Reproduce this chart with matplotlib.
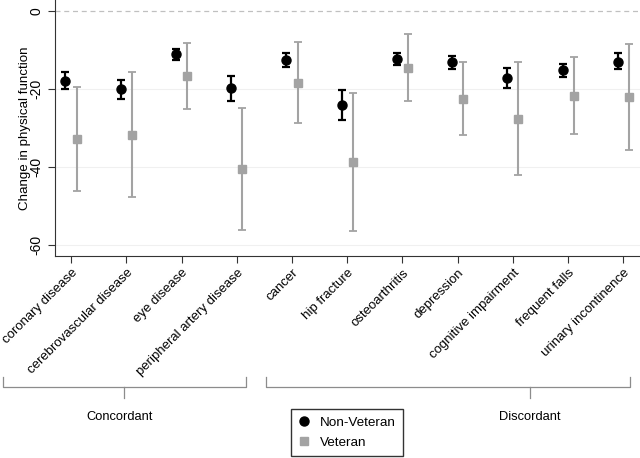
import matplotlib
matplotlib.use("Agg")
import matplotlib.pyplot as plt
from matplotlib.lines import Line2D
import numpy as np

plt.rcParams['font.family'] = ['Liberation Sans', 'DejaVu Sans']

categories = ["coronary disease", "cerebrovascular disease", "eye disease",
              "peripheral artery disease", "cancer", "hip fracture", "osteoarthritis",
              "depression", "cognitive impairment", "frequent falls", "urinary incontinence"]

nonvet_est = [-17.9, -20.0, -11.1, -19.8, -12.6, -24.2, -12.3, -13.2, -17.2, -15.1, -13.0]
nonvet_hi  = [-15.7, -17.6, -9.7, -16.7, -10.9, -20.3, -10.9, -11.5, -14.5, -13.5, -10.9]
nonvet_lo  = [-19.9, -22.5, -12.6, -23.0, -14.4, -27.9, -13.8, -14.9, -19.8, -16.8, -15.0]

vet_est = [-32.7, -31.7, -16.7, -40.5, -18.4, -38.6, -14.6, -22.6, -27.7, -21.7, -22.1]
vet_hi  = [-19.6, -15.6, -8.1, -24.9, -8.0, -20.9, -5.9, -13.1, -13.1, -11.9, -8.5]
vet_lo  = [-46.0, -47.7, -25.1, -56.1, -28.8, -56.3, -23.2, -31.8, -42.1, -31.5, -35.6]

yticks = [0, -20, -40, -60]
group_labels = ["Concordant", "Discordant"]

fig = plt.figure(figsize=(6.4, 4.58), dpi=100)
ax = fig.add_axes([55/640, 1 - 255.7/458, 1 - 55/640, 255.7/458])

x = np.arange(len(categories))
off = 0.1
nv_color = "#000000"
v_color = "#a3a3a3"

ne = np.array(nonvet_est); nh = np.array(nonvet_hi); nl = np.array(nonvet_lo)
ve = np.array(vet_est); vh = np.array(vet_hi); vl = np.array(vet_lo)

ax.errorbar(x - off, ne, yerr=[ne - nl, nh - ne], fmt='o', color=nv_color,
            ecolor=nv_color, elinewidth=1.6, capsize=3.0, capthick=1.6,
            markersize=6.5, zorder=4)
ax.errorbar(x + off, ve, yerr=[ve - vl, vh - ve], fmt='s', color=v_color,
            ecolor=v_color, elinewidth=1.5, capsize=2.6, capthick=1.3,
            markersize=5.5, zorder=3)

for yt in yticks[1:]:
    ax.axhline(yt, color="#f0f0f0", lw=0.8, zorder=0)
ax.axhline(0, color="#c0c0c0", lw=0.9, ls=(0, (4, 3)), zorder=0)

ax.set_xlim(-0.29, 10.3)
ax.set_ylim(-62.7, 2.8)
ax.set_yticks(yticks)
ax.set_yticklabels([str(v) for v in yticks], rotation=90, va='center', fontsize=10)
ax.set_xticks(x)
ax.set_xticklabels(categories, rotation=45, ha='right', rotation_mode='anchor', fontsize=9.5)
ax.tick_params(axis='both', length=5, width=0.8, color='#333333')
ax.tick_params(axis='x', pad=3)
ax.set_ylabel("Change in physical function", fontsize=9.6, labelpad=-1)
for s in ['top', 'right']:
    ax.spines[s].set_visible(False)
for s in ['left', 'bottom']:
    ax.spines[s].set_color('#333333')
    ax.spines[s].set_linewidth(0.8)

# group braces (figure pixel layout)
W, H = 640.0, 458.0
brace_color = "#8c8c8c"
braces = [(3, 246, 124, 120), (266, 630, 530, 530)]
for (xl, xr, xc, xt), lab in zip(braces, group_labels):
    y_top = 1 - 377/H
    y_mid = 1 - 387/H
    y_bot = 1 - 398/H
    fig.add_artist(Line2D([xl/W, xl/W, xr/W, xr/W], [y_top, y_mid, y_mid, y_top],
                          transform=fig.transFigure, color=brace_color, lw=0.9))
    fig.add_artist(Line2D([xc/W, xc/W], [y_mid, y_bot],
                          transform=fig.transFigure, color=brace_color, lw=0.9))
    fig.text(xt/W, 1 - 417/H, lab, ha='center', va='center', fontsize=9.3)

handles = [Line2D([], [], marker='o', color=nv_color, ls='none', markersize=6.5),
           Line2D([], [], marker='s', color=v_color, ls='none', markersize=5.5)]
leg = fig.legend(handles, ["Non-Veteran", "Veteran"],
                 loc='upper left', bbox_to_anchor=(291/W, 1 - 409/H),
                 bbox_transform=fig.transFigure, fontsize=9.7, frameon=True,
                 fancybox=False, handlelength=0.8, handletextpad=0.8,
                 borderpad=0.55, labelspacing=0.55, borderaxespad=0)
leg.get_frame().set_edgecolor('black')
leg.get_frame().set_linewidth(1.0)

fig.savefig("out.png", dpi=100)
